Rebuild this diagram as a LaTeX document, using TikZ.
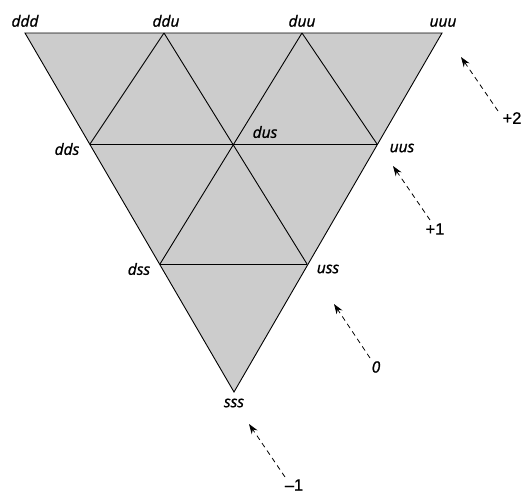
\documentclass[tikz,border=0pt]{standalone}
\usepackage{fontspec}
\setmainfont{Open Sans}
\newfontfamily\lblfont[FakeBold=1.2]{Open Sans}
\newfontfamily\numfont[FakeBold=0.8]{Liberation Sans}
\usetikzlibrary{arrows.meta}
\begin{document}
\begin{tikzpicture}[x=1pt,y=-1pt,
  edge/.style={line width=0.9pt,black},
  lbl/.style={inner sep=1pt,font=\fontsize{15.5}{17}\selectfont\lblfont\itshape},
  num/.style={inner sep=1pt,font=\fontsize{16.5}{18}\selectfont\numfont},
  charge/.style={line width=0.8pt,dash pattern=on 5pt off 4pt,-{Stealth[length=10pt,width=7pt]}}]
\useasboundingbox (0,0) rectangle (524,493);
% vertices
\coordinate (ddd) at (25,33);
\coordinate (ddu) at (164,33);
\coordinate (duu) at (302,33);
\coordinate (uuu) at (442,33);
\coordinate (dds) at (90,144);
\coordinate (dus) at (233,144);
\coordinate (uus) at (377,144);
\coordinate (dss) at (160,264);
\coordinate (uss) at (307,264);
\coordinate (sss) at (234,392);
% filled triangle
\fill[gray!40] (ddd) -- (uuu) -- (sss) -- cycle;
\draw[edge,line join=miter] (ddd) -- (uuu) -- (sss) -- cycle;
\draw[edge] (dds) -- (uus);
\draw[edge] (dss) -- (uss);
\draw[edge] (ddu) -- (dds);
\draw[edge] (ddu) -- (uss);
\draw[edge] (duu) -- (dss);
\draw[edge] (duu) -- (uus);
% labels
\node[lbl,anchor=south] (lddd) at (25,28) {ddd};
\node[lbl,anchor=south] (lddu) at (166,28) {ddu};
\node[lbl,anchor=south] (lduu) at (302,28) {duu};
\node[lbl,anchor=south] (luuu) at (443,28) {uuu};
\node[lbl] (ldds) at (67,149) {dds};
\node[lbl] (ldus) at (265,132) {dus};
\node[lbl] (luus) at (402,148) {uus};
\node[lbl] (ldss) at (139,269) {dss};
\node[lbl] (luss) at (328,269) {uss};
\node[lbl] (lsss) at (234,403) {sss};
% charge arrows
\node[num] (p2) at (512,118) {+2};
\node[num] (p1) at (435,229) {+1};
\node[lbl] (z0) at (376,367) {0};
\node[num] (m1) at (294,485) {–1};
\coordinate (t2) at (461,57);
\coordinate (t1) at (393,166);
\coordinate (t0) at (334,304);
\coordinate (tm) at (249,424);
\draw[charge] (498,111) -- (t2);
\draw[charge] (430,220) -- (t1);
\draw[charge] (370,358) -- (t0);
\draw[charge] (285,477) -- (tm);
\end{tikzpicture}
\end{document}
